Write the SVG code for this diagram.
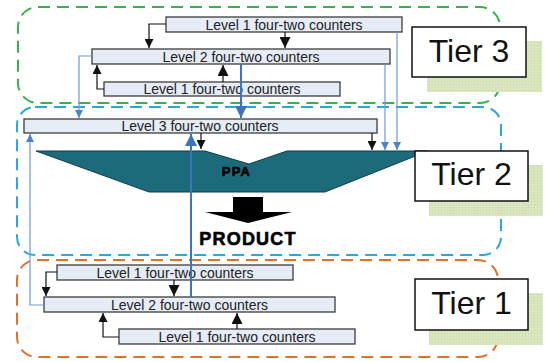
<svg xmlns="http://www.w3.org/2000/svg" width="546" height="362" viewBox="0 0 546 362">
  <defs>
    <style>
      .tier { fill: none; stroke-width: 2; stroke-dasharray: 12 7; }
      .cnt { fill: #e6ecf5; stroke: #3c3c3c; stroke-width: 1.3; }
      .cnt-t { font-family: "Liberation Sans", Arial, sans-serif; font-size: 14px; fill: #222; text-anchor: middle; }
      .lbl { fill: #fff; stroke: #111; stroke-width: 1.5; }
      .lbl-t { font-family: "Liberation Sans", Arial, sans-serif; font-size: 32px; fill: #111; text-anchor: middle; }
      .blk { fill: none; stroke: #111; stroke-width: 1.2; }
      .blu { fill: none; stroke: #6b9bd8; stroke-width: 1.2; }
      .blu2 { fill: none; stroke: #3b74c2; stroke-width: 2; }
      .bold { font-family: "Liberation Sans", Arial, sans-serif; font-weight: bold; fill: #000; stroke: #000; stroke-width: 0.6; text-anchor: middle; }
    </style>
    <pattern id="grain" width="3" height="3" patternUnits="userSpaceOnUse">
      <rect width="3" height="3" fill="#dde8c3"/>
      <path d="M0 0.5H3M0.5 0V3" stroke="#cfdeae" stroke-width="0.6"/>
    </pattern>
    <marker id="hk" viewBox="0 0 10 10" refX="10" refY="5" markerWidth="10" markerHeight="9" markerUnits="userSpaceOnUse" orient="auto">
      <path d="M0 0L10 5L0 10Z" fill="#111"/>
    </marker>
    <marker id="hkL" viewBox="0 0 10 10" refX="10" refY="5" markerWidth="12" markerHeight="11" markerUnits="userSpaceOnUse" orient="auto">
      <path d="M0 0L10 5L0 10Z" fill="#111"/>
    </marker>
    <marker id="hb" viewBox="0 0 10 10" refX="10" refY="5" markerWidth="8" markerHeight="8" markerUnits="userSpaceOnUse" orient="auto">
      <path d="M0 0L10 5L0 10Z" fill="#4a82cc"/>
    </marker>
    <marker id="hbL" viewBox="0 0 10 10" refX="10" refY="5" markerWidth="12" markerHeight="12" markerUnits="userSpaceOnUse" orient="auto">
      <path d="M0 0L10 5L0 10Z" fill="#3b74c2"/>
    </marker>
  </defs>

  <!-- tier outlines -->
  <g id="tier-outlines">
    <rect class="tier" x="18" y="7" width="482" height="96" rx="20" stroke="#35b24a"/>
    <rect class="tier" x="17" y="107" width="484" height="148" rx="18" stroke="#29a8e0"/>
    <rect class="tier" x="17" y="260" width="481" height="97" rx="20" stroke="#e0702a"/>
  </g>

  <!-- PPA and product output -->
  <g id="ppa">
    <path d="M36 151H205L249 164L287 151H428L325 192H149Z" fill="#1b6b7b" stroke="#0f3e48" stroke-width="1"/>
    <text class="bold" x="236.5" y="175.5" font-size="13" letter-spacing="1.2">PPA</text>
  </g>
  <g id="product">
    <path d="M233 197H263V212H292L248 223L205 212H233Z" fill="#000"/>
    <text class="bold" x="248" y="245" font-size="18" letter-spacing="1.2">PRODUCT</text>
  </g>

  <!-- counter rows -->
  <g id="t3-l1a"><rect class="cnt" x="166" y="17" width="236" height="15"/><text class="cnt-t" x="284" y="29.5">Level 1 four-two counters</text></g>
  <g id="t3-l2"><rect class="cnt" x="92" y="49" width="298" height="15"/><text class="cnt-t" x="241" y="61.5">Level 2 four-two counters</text></g>
  <g id="t3-l1b"><rect class="cnt" x="104" y="82" width="236" height="14"/><text class="cnt-t" x="222" y="94">Level 1 four-two counters</text></g>
  <g id="t2-l3"><rect class="cnt" x="24" y="119" width="353" height="14"/><text class="cnt-t" x="200" y="131">Level 3 four-two counters</text></g>
  <g id="t1-l1a"><rect class="cnt" x="57" y="265" width="236" height="15"/><text class="cnt-t" x="175" y="277.5">Level 1 four-two counters</text></g>
  <g id="t1-l2"><rect class="cnt" x="44" y="297" width="291" height="15"/><text class="cnt-t" x="189.5" y="309.5">Level 2 four-two counters</text></g>
  <g id="t1-l1b"><rect class="cnt" x="119" y="329" width="236" height="15"/><text class="cnt-t" x="237" y="341.5">Level 1 four-two counters</text></g>

  <!-- connectors -->
  <g id="connectors">
    <path class="blk" d="M166 24H149V48" marker-end="url(#hk)"/>
    <path class="blk" d="M285 32V48" marker-end="url(#hkL)"/>
    <path class="blk" d="M104 89H97V65" marker-end="url(#hk)"/>
    <path class="blk" d="M223 82V65" marker-end="url(#hkL)"/>
    <path class="blu" d="M92 56H79V118" marker-end="url(#hb)"/>
    <path class="blu2" d="M241 64V118" marker-end="url(#hbL)"/>
    <path class="blu" d="M385 64V150" marker-end="url(#hb)"/>
    <path class="blu" d="M397 32V150" marker-end="url(#hb)"/>
    <path class="blk" d="M201 133V149" marker-end="url(#hk)"/>
    <path class="blk" d="M372 133V150" marker-end="url(#hk)"/>
    <path class="blu" d="M44 305H30V134" marker-end="url(#hb)"/>
    <path class="blu2" d="M191 297V134" marker-end="url(#hbL)"/>
    <path class="blk" d="M57 272H46V296" marker-end="url(#hk)"/>
    <path class="blk" d="M174 280V296" marker-end="url(#hkL)"/>
    <path class="blk" d="M119 337H103V313" marker-end="url(#hk)"/>
    <path class="blk" d="M237 329V313" marker-end="url(#hkL)"/>
  </g>

  <!-- tier labels -->
  <g id="tier3">
    <rect x="427" y="41" width="115" height="51" fill="url(#grain)"/>
    <rect class="lbl" x="412" y="27" width="114" height="50"/>
    <text class="lbl-t" x="469" y="62">Tier 3</text>
  </g>
  <g id="tier2">
    <rect x="429" y="165" width="114" height="51" fill="url(#grain)"/>
    <rect class="lbl" x="415" y="151" width="113" height="50"/>
    <text class="lbl-t" x="471.5" y="185">Tier 2</text>
  </g>
  <g id="tier1">
    <rect x="429" y="293" width="114" height="52" fill="url(#grain)"/>
    <rect class="lbl" x="415" y="279" width="113" height="51"/>
    <text class="lbl-t" x="471.5" y="313.5">Tier 1</text>
  </g>
</svg>
